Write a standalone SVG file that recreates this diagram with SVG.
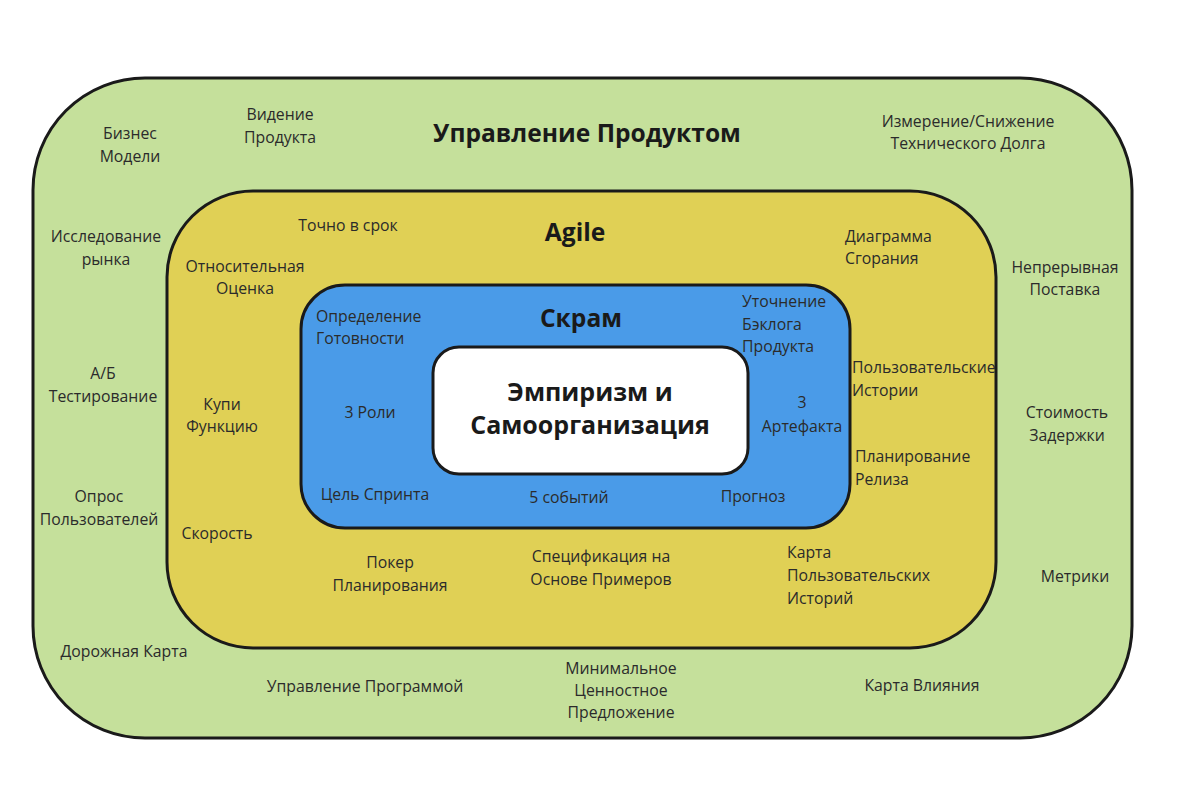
<svg xmlns="http://www.w3.org/2000/svg" width="1200" height="802" viewBox="0 0 1200 802">
<style>
.ring{stroke:#1a1a1a;stroke-width:3}
.t{font-family:"Open Sans","Noto Sans","Liberation Sans",sans-serif;font-size:15.8px;fill:#2b2b2b}
.c{text-anchor:middle}
.h{font-family:"Open Sans","Noto Sans","Liberation Sans",sans-serif;font-weight:bold;font-size:24.6px;fill:#1a1a1a;text-anchor:middle}
.hc{font-size:25px}
</style>
<rect width="1200" height="802" fill="#ffffff"/>
<g id="product-management">
<rect class="ring" x="33" y="78" width="1099" height="660" rx="112" ry="112" fill="#c5e09b"/>
<text class="h" x="587" y="142">Управление Продуктом</text>
<text class="t c" x="130" y="139"><tspan x="130">Бизнес</tspan><tspan x="130" dy="23">Модели</tspan></text>
<text class="t c" x="280" y="120"><tspan x="280">Видение</tspan><tspan x="280" dy="23">Продукта</tspan></text>
<text class="t c" x="968" y="127"><tspan x="968">Измерение/Снижение</tspan><tspan x="968" dy="22">Технического Долга</tspan></text>
<text class="t c" x="106" y="242"><tspan x="106">Исследование</tspan><tspan x="106" dy="23">рынка</tspan></text>
<text class="t c" x="1065" y="273"><tspan x="1065">Непрерывная</tspan><tspan x="1065" dy="22">Поставка</tspan></text>
<text class="t c" x="103" y="379"><tspan x="103">А/Б</tspan><tspan x="103" dy="23">Тестирование</tspan></text>
<text class="t c" x="1067" y="418"><tspan x="1067">Стоимость</tspan><tspan x="1067" dy="23">Задержки</tspan></text>
<text class="t c" x="99" y="502"><tspan x="99">Опрос</tspan><tspan x="99" dy="23">Пользователей</tspan></text>
<text class="t c" x="1075" y="582">Метрики</text>
<text class="t c" x="124" y="657">Дорожная Карта</text>
<text class="t c" x="365" y="692">Управление Программой</text>
<text class="t c" x="621" y="674"><tspan x="621">Минимальное</tspan><tspan x="621" dy="22">Ценностное</tspan><tspan x="621" dy="22">Предложение</tspan></text>
<text class="t c" x="922" y="691">Карта Влияния</text>
</g>
<g id="agile">
<rect class="ring" x="167" y="191" width="829" height="457" rx="86" ry="86" fill="#e0d055"/>
<text class="h" x="575" y="241">Agile</text>
<text class="t c" x="348" y="231">Точно в срок</text>
<text class="t" x="845" y="242"><tspan x="845">Диаграмма</tspan><tspan x="845" dy="22">Сгорания</tspan></text>
<text class="t c" x="245" y="272"><tspan x="245">Относительная</tspan><tspan x="245" dy="22">Оценка</tspan></text>
<text class="t" x="852" y="373"><tspan x="852">Пользовательские</tspan><tspan x="852" dy="23">Истории</tspan></text>
<text class="t c" x="222" y="410"><tspan x="222">Купи</tspan><tspan x="222" dy="22">Функцию</tspan></text>
<text class="t" x="855" y="462"><tspan x="855">Планирование</tspan><tspan x="855" dy="23">Релиза</tspan></text>
<text class="t c" x="217" y="539">Скорость</text>
<text class="t c" x="390" y="568"><tspan x="390">Покер</tspan><tspan x="390" dy="23">Планирования</tspan></text>
<text class="t c" x="601" y="562"><tspan x="601">Спецификация на</tspan><tspan x="601" dy="23">Основе Примеров</tspan></text>
<text class="t" x="787" y="558"><tspan x="787">Карта</tspan><tspan x="787" dy="23">Пользовательских</tspan><tspan x="787" dy="23">Историй</tspan></text>
</g>
<g id="scrum">
<rect class="ring" x="301" y="285" width="549" height="243" rx="44" ry="44" fill="#4a9be8"/>
<text class="h" x="581" y="327">Скрам</text>
<text class="t" x="316" y="322"><tspan x="316">Определение</tspan><tspan x="316" dy="22">Готовности</tspan></text>
<text class="t" x="742" y="307"><tspan x="742">Уточнение</tspan><tspan x="742" dy="23">Бэклога</tspan><tspan x="742" dy="22">Продукта</tspan></text>
<text class="t c" x="370" y="418">3 Роли</text>
<text class="t c" x="802" y="408"><tspan x="802">3</tspan><tspan x="802" dy="24">Артефакта</tspan></text>
<text class="t c" x="375" y="500">Цель Спринта</text>
<text class="t c" x="569" y="503">5 событий</text>
<text class="t c" x="753" y="502">Прогноз</text>
</g>
<g id="empiricism">
<rect class="ring" x="433" y="347" width="315" height="127" rx="26" ry="26" fill="#ffffff"/>
<text class="h hc" x="590" y="401">Эмпиризм и</text>
<text class="h hc" x="590" y="434">Самоорганизация</text>
</g>
<g id="connectors"></g>
</svg>
